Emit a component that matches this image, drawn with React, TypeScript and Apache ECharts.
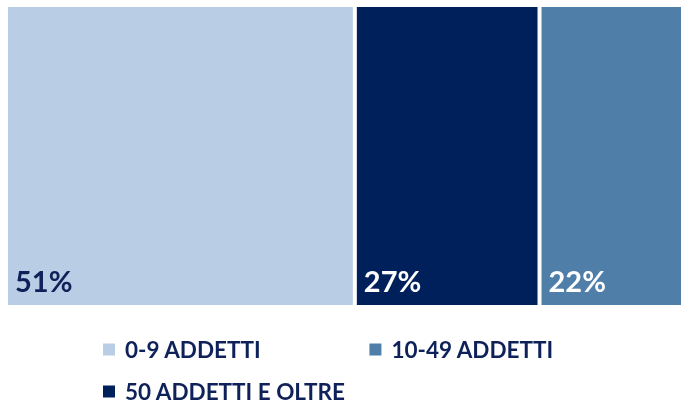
import React, { useEffect, useRef } from "react";
import * as echarts from "echarts";

const categories = ["0-9 ADDETTI", "50 ADDETTI E OLTRE", "10-49 ADDETTI"];
const values = [51, 27, 22];
const colors = ["#b9cde4", "#00205c", "#4f7ea9"];
const labelColors = ["#0e2159", "#ffffff", "#ffffff"];
const legendRow1 = ["0-9 ADDETTI", "10-49 ADDETTI"];
const legendRow2 = ["50 ADDETTI E OLTRE"];

const FONT = "Lato, 'DejaVu Sans', sans-serif";
const NAVY_TEXT = "#0e2159";

export default function App() {
  const ref = useRef<HTMLDivElement>(null);
  useEffect(() => {
    if (!ref.current) return;
    const chart = echarts.init(ref.current, undefined, { renderer: "svg" });
    const legendBase = {
      orient: "horizontal",
      icon: "rect",
      itemWidth: 14,
      itemHeight: 14,
      itemGap: 106,
      padding: 0,
      selectedMode: false,
      textStyle: {
        color: NAVY_TEXT,
        fontFamily: FONT,
        fontWeight: "bold",
        fontSize: 22.5,
        lineHeight: 18,
        padding: [0, 0, 0, 4],
      },
    };
    chart.setOption({
      animation: false,
      grid: { left: 6, right: 0, top: 5, bottom: 94, containLabel: false },
      xAxis: { type: "value", min: 0, max: 100, show: false },
      yAxis: { type: "category", data: ["a"], show: false },
      legend: [
        { ...legendBase, data: legendRow1, left: 101, top: 338 },
        { ...legendBase, data: legendRow2, left: 101, top: 380 },
      ],
      series: categories.map((name, i) => ({
        name,
        type: "bar",
        stack: "total",
        barWidth: "100%",
        data: [values[i]],
        itemStyle: { color: colors[i], borderColor: "#ffffff", borderWidth: 2 },
        label: {
          show: true,
          position: "insideBottomLeft",
          distance: 6,
          formatter: "{c}%",
          color: labelColors[i],
          fontFamily: FONT,
          fontWeight: "bold",
          fontSize: 29,
          offset: [3, -6],
        },
      })),
    });
    return () => chart.dispose();
  }, []);
  return (
    <div
      style={{
        position: "fixed",
        left: 0,
        top: 0,
        width: 681,
        height: 401,
        overflow: "hidden",
      }}
    >
      <div ref={ref} style={{ width: 690, height: 401 }} />
    </div>
  );
}
